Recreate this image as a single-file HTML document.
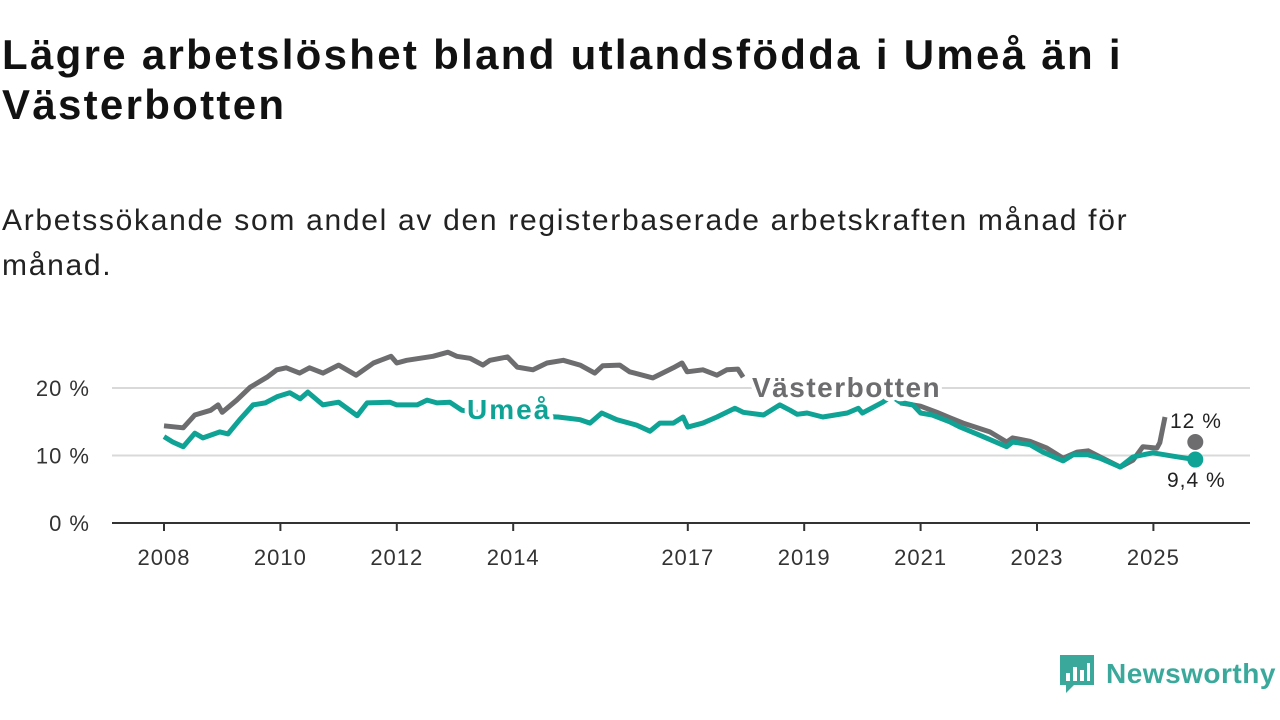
<!DOCTYPE html>
<html><head><meta charset="utf-8"><style>
body{margin:0;width:1280px;height:720px;background:#fff;font-family:"Liberation Sans",sans-serif;overflow:hidden;position:relative}
h1{position:absolute;left:2px;top:30px;margin:0;font-size:42px;line-height:50px;font-weight:bold;color:#111;width:1270px;letter-spacing:2.3px;white-space:nowrap}
.sub{position:absolute;left:2px;top:198px;margin:0;font-size:30px;line-height:45px;color:#222;width:1270px;letter-spacing:1.7px;white-space:nowrap}
</style></head><body>
<h1>Lägre arbetslöshet bland utlandsfödda i Umeå än i<br>Västerbotten</h1>
<p class="sub">Arbetssökande som andel av den registerbaserade arbetskraften månad för<br>månad.</p>
<svg id="chart" width="1280" height="720" style="position:absolute;left:0;top:0"></svg>
<div style="position:absolute;left:1060px;top:655px;display:flex;align-items:center">
<svg width="34" height="38"><path d="M0 0H34V30H14L6 38V30H0Z" fill="#3aa99c"/><rect x="6" y="18" width="4" height="8" fill="#fff"/><rect x="13" y="12" width="4" height="14" fill="#fff"/><rect x="20" y="15" width="4" height="11" fill="#fff"/><rect x="27" y="8" width="3" height="18" fill="#fff"/></svg>
<span style="margin-left:12px;font-size:28px;font-weight:bold;color:#3aa99c;letter-spacing:0.5px">Newsworthy</span></div>
<script>
const yTicks=[0,10,20];
const xTicks=[2008,2010,2012,2014,2017,2019,2021,2023,2025];
const vbDates=[2008.0,2008.33,2008.53,2008.8,2008.93,2009.0,2009.25,2009.48,2009.77,2009.94,2010.1,2010.33,2010.5,2010.73,2011.0,2011.3,2011.6,2011.9,2012.0,2012.17,2012.62,2012.88,2013.03,2013.26,2013.48,2013.6,2013.9,2014.07,2014.34,2014.58,2014.86,2015.15,2015.4,2015.54,2015.83,2016.0,2016.4,2016.75,2016.9,2016.99,2017.26,2017.5,2017.67,2017.86,2017.95,2019.0,2020.65,2021.0,2021.28,2021.5,2021.73,2022.19,2022.48,2022.58,2022.88,2023.17,2023.45,2023.69,2023.88,2024.08,2024.43,2024.65,2024.82,2025.06,2025.11,2025.2,2025.5,2025.72];
const vbValues=[14.4,14.1,16.0,16.7,17.5,16.4,18.2,20.1,21.6,22.7,23.0,22.2,23.0,22.2,23.4,21.9,23.7,24.7,23.7,24.1,24.7,25.3,24.7,24.4,23.4,24.1,24.6,23.1,22.7,23.7,24.1,23.4,22.2,23.3,23.4,22.4,21.5,23.0,23.7,22.4,22.7,21.9,22.7,22.8,21.6,null,17.8,17.3,16.4,15.6,14.8,13.5,12.0,12.6,12.1,11.1,9.6,10.5,10.7,9.8,8.3,9.3,11.3,11.1,11.9,15.7,null,12.0];
const umDates=[2008.0,2008.15,2008.33,2008.53,2008.67,2008.96,2009.1,2009.3,2009.53,2009.74,2009.94,2010.16,2010.34,2010.47,2010.73,2011.0,2011.32,2011.49,2011.88,2012.0,2012.35,2012.52,2012.69,2012.91,2013.12,2013.6,2014.2,2014.77,2015.15,2015.32,2015.52,2015.78,2016.12,2016.35,2016.52,2016.75,2016.92,2017.0,2017.26,2017.5,2017.81,2017.95,2018.3,2018.58,2018.76,2018.88,2019.05,2019.32,2019.74,2019.93,2020.0,2020.35,2020.5,2020.65,2020.87,2021.0,2021.2,2021.5,2021.68,2022.02,2022.48,2022.58,2022.88,2023.1,2023.45,2023.62,2023.88,2024.08,2024.43,2024.65,2024.99,2025.34,2025.72];
const umValues=[12.8,12.0,11.3,13.3,12.6,13.5,13.2,15.3,17.5,17.8,18.7,19.3,18.4,19.4,17.5,17.9,15.9,17.8,17.9,17.5,17.5,18.2,17.8,17.9,16.7,16.2,15.9,15.7,15.3,14.8,16.3,15.3,14.5,13.6,14.8,14.8,15.7,14.2,14.8,15.7,17.0,16.4,16.0,17.5,16.7,16.1,16.3,15.7,16.3,17.0,16.3,17.9,18.8,17.9,17.5,16.3,16.0,15.0,14.2,13.0,11.3,12.0,11.6,10.5,9.2,10.1,10.1,9.6,8.3,9.8,10.4,9.9,9.4];
const NS='http://www.w3.org/2000/svg';
const svg=document.getElementById('chart');
const x=yr=>164+(yr-2008)*58.2;
const y=v=>523-6.75*v;
function el(t,a){const e=document.createElementNS(NS,t);for(const k in a)e.setAttribute(k,a[k]);svg.appendChild(e);return e;}
yTicks.forEach(t=>{
 if(t>0){const g=el('line',{x1:112,x2:1250,y1:y(t),y2:y(t),stroke:'#d9d9d9','stroke-width':2});
 
 }
 const l=el('text',{x:90,y:y(t)+8,'text-anchor':'end','font-size':22,fill:'#333','font-family':'Liberation Sans','letter-spacing':1});l.textContent=t+' %';
 
 
});
const ax=el('line',{x1:112,x2:1250,y1:y(0),y2:y(0),stroke:'#333','stroke-width':2});


xTicks.forEach(t=>{
 const tk=el('line',{x1:x(t),x2:x(t),y1:y(0),y2:y(0)+8,stroke:'#333','stroke-width':2});
 
 
 const l=el('text',{x:x(t),y:565,'text-anchor':'middle','font-size':22,fill:'#333','font-family':'Liberation Sans','letter-spacing':1});l.textContent=t;
 
 
});
function path(ds,vs){let d='',pen=false;ds.forEach((t,i)=>{const v=vs[i];if(v===null){pen=false;return;}d+=(pen?'L':'M')+x(t).toFixed(1)+' '+y(v).toFixed(1);pen=true;});return d;}
function lastSeg(ds,vs){return [ds[ds.length-1],vs[vs.length-1]];}
const vbPath=el('path',{d:path(vbDates.slice(0,-1),vbValues.slice(0,-1)),fill:'none',stroke:'#6d6d70','stroke-width':5,'stroke-linejoin':'round'});


const umPath=el('path',{d:path(umDates,umValues),fill:'none',stroke:'#0fa396','stroke-width':5,'stroke-linejoin':'round'});


const [vd,vv]=lastSeg(vbDates,vbValues);
const d1=el('circle',{cx:x(vd),cy:y(vv),r:8,fill:'#6d6d70'});


const [ud,uv]=lastSeg(umDates,umValues);
const d2=el('circle',{cx:x(ud),cy:y(uv),r:8,fill:'#0fa396'});


function lab(txt,xx,yy,fill,size,bold,name,ls){const t=el('text',{x:xx,y:yy,fill:fill,'font-size':size,'font-weight':bold?'bold':'normal','font-family':'Liberation Sans','letter-spacing':ls,stroke:'#fff','stroke-width':8,'paint-order':'stroke','stroke-linejoin':'round'});t.textContent=txt;
 
 }
lab('Umeå',467,419,'#0fa396',28,true,'umea-label',2);
lab('Västerbotten',752,397,'#6d6d70',28,true,'vasterbotten-label',1.5);
lab(vv+' %',1170,428,'#222',21,false,'vasterbotten-end-value',1);
lab(String(uv).replace('.',',')+' %',1167,487,'#222',21,false,'umea-end-value',1);
</script>
</body></html>
